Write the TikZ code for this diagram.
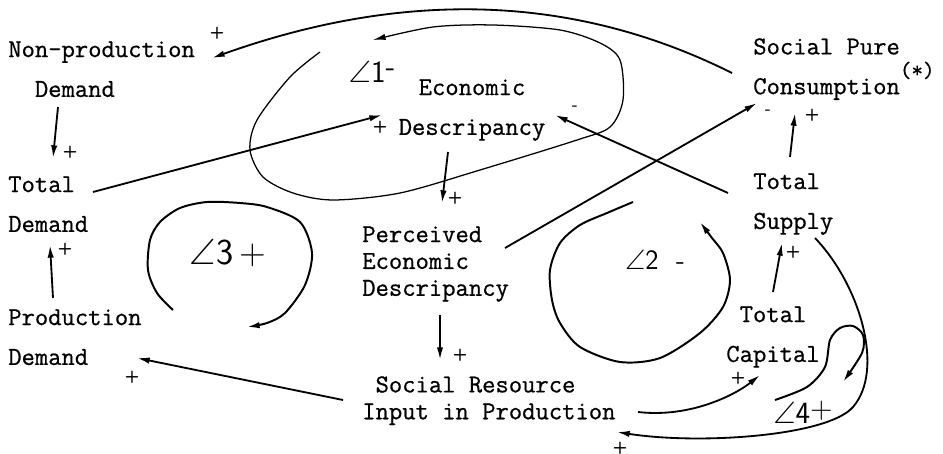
\documentclass[tikz,border=0pt]{standalone}
\usepackage{fontspec}
\usepackage{amssymb}
\usepackage{tikz}
\usetikzlibrary{arrows.meta,calc}
\newfontfamily\twfont{Latin Modern Mono}[FakeBold=0.7]

\tikzset{
  var/.style={font=\twfont\fontsize{18.4}{28.3}\selectfont, align=left, inner sep=0pt},
  tight/.style={font=\twfont\fontsize{18.4}{19.1}\selectfont},
  arr/.style={-{Latex[length=9pt,width=4.5pt]}, line width=1.3pt},
  sgn/.style={font=\sffamily\bfseries\large, inner sep=0pt},
  loopthin/.style={line width=0.9pt},
  loopthick/.style={line width=1.4pt},
  looplbl/.style={inner sep=0pt}
}

\begin{document}
\begin{tikzpicture}[x=0.025cm,y=-0.025cm]
\useasboundingbox (0,0) rectangle (943,454);

% variables
\node[var, anchor=north west] (nonprod) at (8,41) {Non-production\\\phantom{No}Demand};
\node[var, anchor=north west] (totdem) at (8,176) {Total\\Demand};
\node[var, anchor=north west] (proddem) at (8,309) {Production\\Demand};
\node[var, align=center, anchor=north] (econ) at (472,79) {Economic\\Descripancy};
\node[var, tight, anchor=north west] (perc) at (362,226) {Perceived\\Economic\\Descripancy};
\node[var, tight, anchor=north west] (socres) at (362,376) {\phantom{S}Social Resource\\Input in Production};
\node[var, anchor=north west] (spc) at (753,38) {Social Pure\\Consumption\smash{\raisebox{12pt}{\fontsize{16}{16}\selectfont(*)}}};
\node[var, anchor=north west] (totsup) at (753,173) {Total\\Supply};
\node[var, align=center, anchor=north] (totcap) at (773,306) {Total\\Capital};

% causal links
\draw[arr] ($(nonprod.north west)+(50,66)$) -- ($(totdem.north west)+(45,-18)$);
\draw[arr] ($(proddem.north west)+(45,-11)$) -- ($(totdem.north west)+(42,69)$);
\draw[arr] ($(totdem.north west)+(85,16)$) -- ($(econ.north)+(-90,36)$);
\draw[arr] ($(econ.north)+(-24,73)$) -- ($(perc.north west)+(80,-23)$);
\draw[arr] ($(perc.north west)+(78,89)$) -- ($(socres.north west)+(78,-16)$);
\draw[arr] ($(socres.north west)+(-19,24)$) -- ($(proddem.north west)+(129,49)$);
\draw[arr] ($(spc.north west)+(-21,35)$) .. controls (568,-9) and (397,-8) .. ($(nonprod.north west)+(204,17)$);
\draw[arr] ($(perc.north west)+(143,22)$) -- ($(spc.north west)+(4,65)$);
\draw[arr] ($(totsup.north west)+(-25,20)$) -- ($(econ.north)+(83,36)$);
\draw[arr] ($(totsup.north west)+(37,-16)$) -- ($(spc.north west)+(42,75)$);
\draw[arr] ($(totcap.north)+(0,-14)$) -- ($(totsup.north west)+(29,70)$);
\draw[arr] ($(socres.north west)+(276,36)$) .. controls (690,418) and (735,395) .. ($(totcap.north)+(-13,69)$);
\draw[arr] ($(totsup.north west)+(62,65)$) .. controls (860,285) and (885,370) .. (853,407)
  .. controls (828,436) and (700,445) .. ($(socres.north west)+(255,56)$);

% polarities
\node[sgn] (s1) at (70,152) {+};
\node[sgn] (s2) at (65,249) {+};
\node[sgn] (s3) at (380,127) {+};
\node[sgn] (s4) at (455,198) {+};
\node[sgn] (s5) at (460,355) {+};
\node[sgn] (s6) at (132,377) {+};
\node[sgn] (s7) at (217,33) {+};
\node[sgn] (s8) at (768,112) {-};
\node[sgn] (s9) at (575,108) {-};
\node[sgn] (s10) at (812,115) {+};
\node[sgn] (s11) at (793,252) {+};
\node[sgn] (s12) at (738,378) {+};
\node[sgn] (s13) at (620,448) {+};

% loops
\draw[loopthin, -{Latex[length=9pt,width=4.5pt]}] plot[smooth] coordinates {(320,52) (290,77) (257,120) (250,150) (263,177) (293,193) (333,200) (400,193) (480,170) (577,140) (610,127) (623,100) (620,60) (600,43) (560,30) (493,25) (433,27) (373,40)};
\draw[loopthick, -{Latex[length=9pt,width=4.5pt]}] plot[smooth] coordinates {(173,310) (157,293) (148,270) (150,240) (160,222) (180,208) (207,202) (240,203) (267,207) (300,222) (312,253) (305,285) (285,313) (267,323) (247,327)};
\draw[loopthick, -{Latex[length=9pt,width=4.5pt]}] plot[smooth] coordinates {(633,202) (607,213) (580,225) (560,243) (550,270) (552,300) (560,323) (580,347) (620,362) (660,358) (700,333) (723,307) (730,280) (723,253) (712,238) (700,222)};
\draw[loopthick, -{Latex[length=9pt,width=4.5pt]}] plot[smooth] coordinates {(775,400) (807,387) (825,367) (830,340) (840,328) (853,326) (863,335) (862,353) (843,382)};

\node[looplbl, font=\sffamily\fontsize{22}{22}\selectfont] (l1) at (372,72) {$\angle$1\raisebox{.5ex}{-}};
\node[looplbl, font=\sffamily\fontsize{26}{26}\selectfont] (l3) at (228,253) {$\angle$3\,+};
\node[looplbl, font=\sffamily\fontsize{20}{20}\selectfont] (l2) at (655,260) {$\angle$2\ \ -};
\node[looplbl, font=\sffamily\fontsize{22}{22}\selectfont] (l4) at (803,412) {$\angle$4\raisebox{.4ex}{+}};
\end{tikzpicture}
\end{document}
